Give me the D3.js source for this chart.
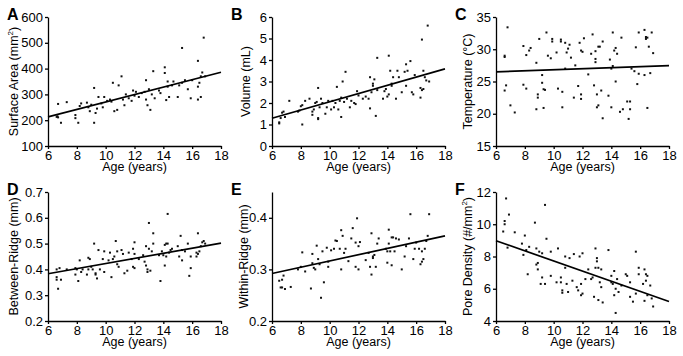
<!DOCTYPE html>
<html>
<head>
<meta charset="utf-8">
<script src="https://cdn.jsdelivr.net/npm/d3@7"></script>
<style>
  body { margin: 0; background: #fff; }
  text { font-family: "Liberation Sans", Arial, sans-serif; fill: #000; }
  .axis path, .axis line { stroke: #000; stroke-width: 1.3px; }
  .axis text { font-size: 13px; }
</style>
</head>
<body>
<svg id="chart" width="683" height="356"></svg>
<script>
// x ticks shared by every panel
const ageTicks = [6, 8, 10, 12, 14, 16, 18];

// A: surface area (mm^2) vs age
const surfaceArea = [[6.6,213],[6.65,215],[6.7,211],[6.7,263],[6.9,190],[7.3,270],[7.9,220],[7.9,208],[8.1,190],[8.2,255],[8.3,265],
  [8.7,268],[8.8,250],[8.9,235],[9.0,260],[9.2,325],[9.2,190],[9.3,228],[9.4,245],[9.5,290],[9.7,265],[9.8,250],[9.9,290],
  [10.1,275],[10.3,280],[10.4,272],[10.5,345],[10.6,235],[10.8,240],[10.9,335],[11.1,370],[11.2,280],[11.3,258],[11.4,300],
  [11.6,285],[11.8,275],[11.9,315],[12.0,295],[12.1,310],[12.3,290],[12.5,305],[12.7,310],[12.8,355],[12.8,280],[12.9,258],
  [13.0,320],[13.1,240],[13.2,300],[13.3,390],[13.4,285],[13.7,315],[13.8,305],[14.1,383],[14.1,405],[14.2,278],[14.3,330],
  [14.3,350],[14.4,290],[14.6,335],[14.7,350],[15.0,290],[15.1,335],[15.3,480],[15.3,345],[15.5,355],[15.7,320],[15.9,285],
  [16.0,355],[16.4,280],[16.4,330],[16.4,430],[16.5,345],[16.6,370],[16.6,290],[16.7,385],[16.8,520],[16.9,370]];
const fitSurfaceArea = [213, 386];

// B: volume (mL)
const volume = [[6.5,1.05],[6.5,1.1],[6.6,1.3],[6.7,1.55],[6.8,1.6],[6.9,1.35],[7.2,2.1],[7.8,1.6],[7.9,1.65],[8.0,1.85],[8.1,1.0],
  [8.1,1.9],[8.3,2.1],[8.6,2.2],[8.8,1.45],[8.8,1.6],[8.9,1.7],[9.0,2.0],[9.1,2.05],[9.2,2.7],[9.2,1.3],[9.2,1.25],[9.3,1.8],
  [9.4,2.2],[9.5,2.0],[9.7,1.5],[9.8,1.8],[9.9,2.1],[10.1,1.7],[10.2,2.1],[10.3,1.8],[10.4,2.0],[10.5,2.75],[10.6,1.7],
  [10.7,2.1],[10.8,1.35],[10.8,2.25],[10.9,3.0],[11.0,2.05],[11.1,3.45],[11.2,2.2],[11.4,1.8],[11.5,2.1],[11.7,2.0],[11.8,1.95],
  [11.9,2.55],[12.0,2.35],[12.3,2.2],[12.5,2.3],[12.7,2.2],[12.8,1.75],[12.8,3.2],[12.9,2.5],[13.0,2.8],[13.0,2.9],[13.1,3.1],
  [13.2,1.4],[13.3,2.6],[13.3,4.1],[13.7,2.2],[13.8,2.55],[13.9,2.65],[14.0,2.3],[14.1,4.2],[14.1,2.4],[14.2,3.5],[14.3,2.8],
  [14.3,2.9],[14.4,3.2],[14.6,2.2],[14.7,3.5],[14.8,3.2],[15.0,2.5],[15.2,3.45],[15.3,3.8],[15.3,2.8],[15.4,3.5],[15.6,3.95],
  [15.7,2.5],[15.8,2.4],[15.9,3.3],[16.3,2.25],[16.3,2.7],[16.4,4.95],[16.4,2.6],[16.5,3.5],[16.5,2.65],[16.6,3.2],[16.7,3.05],
  [16.8,5.6],[16.9,3.0]];
const fitVolume = [1.29, 3.59];

// C: temperature (deg C)
const temperature = [[6.6,28.8],[6.6,29.0],[6.6,23.6],[6.7,24.4],[6.8,33.4],[7.0,21.3],[7.3,20.2],[7.9,24.5],[7.9,30.5],[8.1,29.1],
  [8.1,23.9],[8.3,29.8],[8.4,30.2],[8.8,27.9],[8.8,20.7],[8.9,22.5],[8.9,23.0],[9.0,31.6],[9.2,26.0],[9.2,24.8],[9.3,23.8],
  [9.3,20.9],[9.4,23.7],[9.5,32.6],[9.6,29.0],[9.8,28.6],[9.9,31.6],[9.9,31.2],[10.2,29.5],[10.3,23.9],[10.5,31.2],[10.5,31.5],
  [10.6,21.0],[10.6,23.4],[10.8,27.0],[10.8,31.0],[10.9,29.5],[11.0,30.1],[11.1,30.7],[11.2,28.7],[11.4,22.5],[11.5,27.5],
  [11.7,24.3],[11.8,31.0],[11.9,29.8],[11.9,23.0],[11.9,22.3],[12.0,29.6],[12.1,31.7],[12.4,26.1],[12.6,29.3],[12.7,32.3],
  [12.8,24.4],[12.9,29.7],[12.9,28.5],[12.9,28.0],[13.0,23.0],[13.0,21.0],[13.1,30.4],[13.1,21.3],[13.2,30.4],[13.3,23.6],
  [13.4,19.3],[13.4,31.2],[13.8,22.8],[13.9,28.4],[14.0,21.0],[14.0,27.0],[14.1,27.4],[14.1,32.6],[14.2,29.8],[14.3,25.0],
  [14.3,30.2],[14.4,29.3],[14.6,20.3],[14.7,31.8],[14.8,20.7],[15.1,21.9],[15.2,19.2],[15.3,21.9],[15.3,20.7],[15.4,27.0],
  [15.6,26.6],[15.7,30.3],[15.8,24.6],[15.9,32.6],[15.9,26.2],[16.3,26.0],[16.3,33.0],[16.4,31.9],[16.4,31.6],[16.5,20.9],
  [16.5,31.8],[16.6,30.4],[16.7,26.3],[16.8,32.6],[16.9,29.4]];
const fitTemperature = [26.5, 27.45];

// D: between-ridge distance (mm)
const betweenRidge = [[6.6,0.40],[6.6,0.37],[6.6,0.36],[6.7,0.325],[6.8,0.405],[6.9,0.36],[7.3,0.40],[7.9,0.38],[7.9,0.405],
  [8.0,0.40],[8.1,0.355],[8.2,0.435],[8.3,0.39],[8.4,0.40],[8.7,0.38],[8.8,0.445],[8.8,0.40],[8.9,0.44],[9.0,0.41],[9.1,0.40],
  [9.2,0.50],[9.3,0.385],[9.3,0.38],[9.4,0.365],[9.5,0.475],[9.6,0.40],[9.8,0.44],[9.9,0.47],[9.9,0.39],[10.2,0.435],
  [10.3,0.465],[10.4,0.37],[10.5,0.44],[10.6,0.45],[10.7,0.51],[10.8,0.47],[10.8,0.42],[10.9,0.41],[11.1,0.475],[11.2,0.46],
  [11.3,0.385],[11.5,0.395],[11.6,0.465],[11.8,0.44],[11.9,0.48],[11.9,0.41],[12.0,0.46],[12.0,0.505],[12.0,0.405],[12.3,0.44],
  [12.6,0.455],[12.7,0.43],[12.8,0.49],[12.8,0.415],[12.9,0.40],[12.9,0.39],[13.0,0.58],[13.0,0.48],[13.1,0.395],[13.2,0.47],
  [13.3,0.54],[13.3,0.50],[13.7,0.455],[13.8,0.355],[13.9,0.47],[14.0,0.455],[14.1,0.495],[14.1,0.415],[14.2,0.50],[14.2,0.45],
  [14.3,0.615],[14.3,0.50],[14.4,0.465],[14.5,0.475],[14.6,0.48],[15.0,0.49],[15.1,0.45],[15.2,0.53],[15.3,0.475],[15.3,0.435],
  [15.5,0.47],[15.7,0.50],[15.8,0.375],[15.9,0.405],[15.9,0.45],[16.3,0.45],[16.3,0.465],[16.4,0.54],[16.4,0.46],[16.5,0.47],
  [16.6,0.49],[16.7,0.505],[16.8,0.51],[16.9,0.50]];
const fitBetweenRidge = [0.383, 0.502];

// E: within-ridge distance (mm)
const withinRidge = [[6.5,0.278],[6.6,0.265],[6.7,0.265],[6.7,0.28],[6.8,0.288],[6.9,0.262],[7.3,0.266],[7.8,0.30],[8.0,0.305],
  [8.1,0.333],[8.3,0.296],[8.7,0.263],[8.8,0.312],[8.8,0.33],[8.9,0.303],[9.0,0.30],[9.1,0.346],[9.2,0.32],[9.3,0.31],[9.4,0.245],
  [9.5,0.335],[9.6,0.275],[9.8,0.342],[9.9,0.315],[9.9,0.305],[10.1,0.337],[10.3,0.34],[10.4,0.356],[10.5,0.355],[10.7,0.34],
  [10.8,0.30],[10.8,0.376],[10.9,0.365],[11.0,0.332],[11.1,0.34],[11.3,0.316],[11.5,0.36],[11.6,0.38],[11.8,0.305],[11.8,0.352],
  [11.9,0.399],[12.0,0.345],[12.0,0.30],[12.1,0.353],[12.5,0.318],[12.7,0.332],[12.8,0.305],[12.9,0.29],[12.9,0.37],[13.0,0.322],
  [13.0,0.325],[13.1,0.328],[13.2,0.305],[13.3,0.35],[13.4,0.36],[13.9,0.34],[14.0,0.335],[14.0,0.313],[14.1,0.35],[14.1,0.377],
  [14.2,0.335],[14.3,0.308],[14.3,0.362],[14.4,0.362],[14.5,0.335],[14.6,0.36],[14.8,0.358],[15.0,0.30],[15.2,0.325],[15.3,0.345],
  [15.5,0.36],[15.6,0.407],[15.8,0.32],[15.9,0.34],[16.0,0.352],[16.2,0.34],[16.3,0.31],[16.4,0.315],[16.4,0.335],[16.5,0.32],
  [16.6,0.34],[16.7,0.355],[16.8,0.365],[16.9,0.407]];
const fitWithinRidge = [0.292, 0.365];

// F: pore density (#/mm^2)
const poreDensity = [[6.5,9.55],[6.6,10.0],[6.6,10.2],[6.7,11.6],[6.8,8.55],[6.9,10.6],[7.3,9.5],[7.8,8.8],[7.9,8.1],[8.0,9.3],
  [8.1,8.4],[8.2,6.9],[8.3,8.6],[8.7,10.1],[8.8,8.5],[8.8,7.5],[8.9,7.6],[8.9,7.2],[9.0,8.3],[9.1,6.3],[9.2,6.7],[9.2,8.2],
  [9.4,11.2],[9.4,6.3],[9.5,9.1],[9.8,6.8],[9.8,8.3],[10.2,6.4],[10.3,8.5],[10.5,6.7],[10.5,6.4],[10.6,5.9],[10.6,5.75],
  [10.8,8.0],[10.8,7.3],[10.9,6.3],[11.0,5.8],[11.1,7.9],[11.3,6.5],[11.4,8.15],[11.6,6.1],[11.7,5.9],[11.8,8.0],[11.9,5.6],
  [11.9,6.3],[12.0,8.2],[12.0,5.7],[12.2,6.6],[12.4,7.2],[12.6,6.6],[12.7,6.7],[12.8,5.5],[12.9,8.5],[12.9,7.3],[13.0,7.9],
  [13.0,7.7],[13.1,5.3],[13.1,7.3],[13.2,6.4],[13.3,7.2],[13.3,6.1],[13.4,5.15],[13.8,8.4],[14.0,6.8],[14.0,6.4],[14.1,6.3],
  [14.2,5.6],[14.2,7.1],[14.3,4.5],[14.3,6.0],[14.4,6.6],[14.5,5.8],[14.7,6.2],[15.0,6.9],[15.1,6.8],[15.3,5.5],[15.3,6.4],
  [15.5,5.2],[15.7,5.7],[15.7,8.3],[15.9,7.3],[15.9,6.9],[16.2,6.3],[16.3,7.2],[16.3,5.25],[16.4,6.9],[16.4,6.5],[16.5,5.6],
  [16.5,6.8],[16.7,6.2],[16.8,5.4],[16.9,4.9]];
const fitPoreDensity = [8.98, 5.21];

const panels = [
  { letter: 'A', pts: surfaceArea, fit: fitSurfaceArea, domain: [100, 600], ticks: [100,200,300,400,500,600], fmt: d3.format('d'),
    title: ['Surface Area (mm', '2', ')'], x: 48, y: 17, titleOff: 35 },
  { letter: 'B', pts: volume, fit: fitVolume, domain: [0, 6], ticks: [0,1,2,3,4,5,6], fmt: d3.format('d'),
    title: ['Volume (mL)'], x: 272, y: 17, titleOff: 27 },
  { letter: 'C', pts: temperature, fit: fitTemperature, domain: [15, 35], ticks: [15,20,25,30,35], fmt: d3.format('d'),
    title: ['Temperature (°C)'], x: 496, y: 17, titleOff: 29 },
  { letter: 'D', pts: betweenRidge, fit: fitBetweenRidge, domain: [0.2, 0.7], ticks: [0.2,0.3,0.4,0.5,0.6,0.7], fmt: d3.format('.1f'),
    title: ['Between-Ridge (mm)'], x: 48, y: 192, titleOff: 35 },
  { letter: 'E', pts: withinRidge, fit: fitWithinRidge, domain: [0.2, 0.45], ticks: [0.2,0.3,0.4], fmt: d3.format('.1f'),
    title: ['Within-Ridge (mm)'], x: 272, y: 192, titleOff: 29 },
  { letter: 'F', pts: poreDensity, fit: fitPoreDensity, domain: [4, 12], ticks: [4,6,8,10,12], fmt: d3.format('d'),
    title: ['Pore Density (#/mm', '2', ')'], x: 496, y: 192, titleOff: 29 }
];

const w = 173, h = 129;
const svg = d3.select('#chart');

panels.forEach(p => {
  const g = svg.append('g').attr('transform', `translate(${p.x},${p.y})`);
  const sx = d3.scaleLinear().domain([6, 18]).range([0, w]);
  const sy = d3.scaleLinear().domain(p.domain).range([h, 0]);

  // dots
  g.selectAll('.dot')
    .data(p.pts)
    .enter().append('rect')
    .attr('class', 'dot')
    .attr('x', d => sx(d[0]) - 1)
    .attr('y', d => sy(d[1]) - 1)
    .attr('width', 2)
    .attr('height', 2)
    .style('fill', '#111');

  // regression line
  g.append('line')
    .attr('x1', sx(6)).attr('y1', sy(p.fit[0]))
    .attr('x2', sx(18)).attr('y2', sy(p.fit[1]))
    .style('stroke', '#000')
    .style('stroke-width', 1.7);

  // axes
  const axisX = d3.axisBottom(sx).tickValues(ageTicks).tickSize(3).tickSizeOuter(0).tickPadding(2);
  const axisY = d3.axisLeft(sy).tickValues(p.ticks).tickFormat(p.fmt).tickSize(3).tickSizeOuter(0).tickPadding(2);

  g.append('g').attr('class', 'axis').attr('transform', `translate(0,${h})`).call(axisX);
  g.append('g').attr('class', 'axis').call(axisY);
  g.selectAll('.axis text').style('font-family', '"Liberation Sans", Arial, sans-serif');

  // x title
  g.append('text')
    .attr('x', w / 2)
    .attr('y', h + 24.5)
    .attr('text-anchor', 'middle')
    .style('font-size', '12.5px')
    .text('Age (years)');

  // y title
  const yt = g.append('text')
    .attr('transform', `translate(${-p.titleOff + 4.5},${h / 2}) rotate(-90)`)
    .attr('text-anchor', 'middle')
    .style('font-size', '12.5px');
  yt.append('tspan').text(p.title[0]);
  if (p.title.length > 1) {
    yt.append('tspan').attr('dy', -5).style('font-size', '8px').text(p.title[1]);
    yt.append('tspan').attr('dy', 5).text(p.title[2]);
  }

  // panel letter
  g.append('text')
    .attr('x', -41)
    .attr('y', 3)
    .style('font-size', '16px')
    .style('font-weight', 'bold')
    .text(p.letter);
});
</script>
</body>
</html>
